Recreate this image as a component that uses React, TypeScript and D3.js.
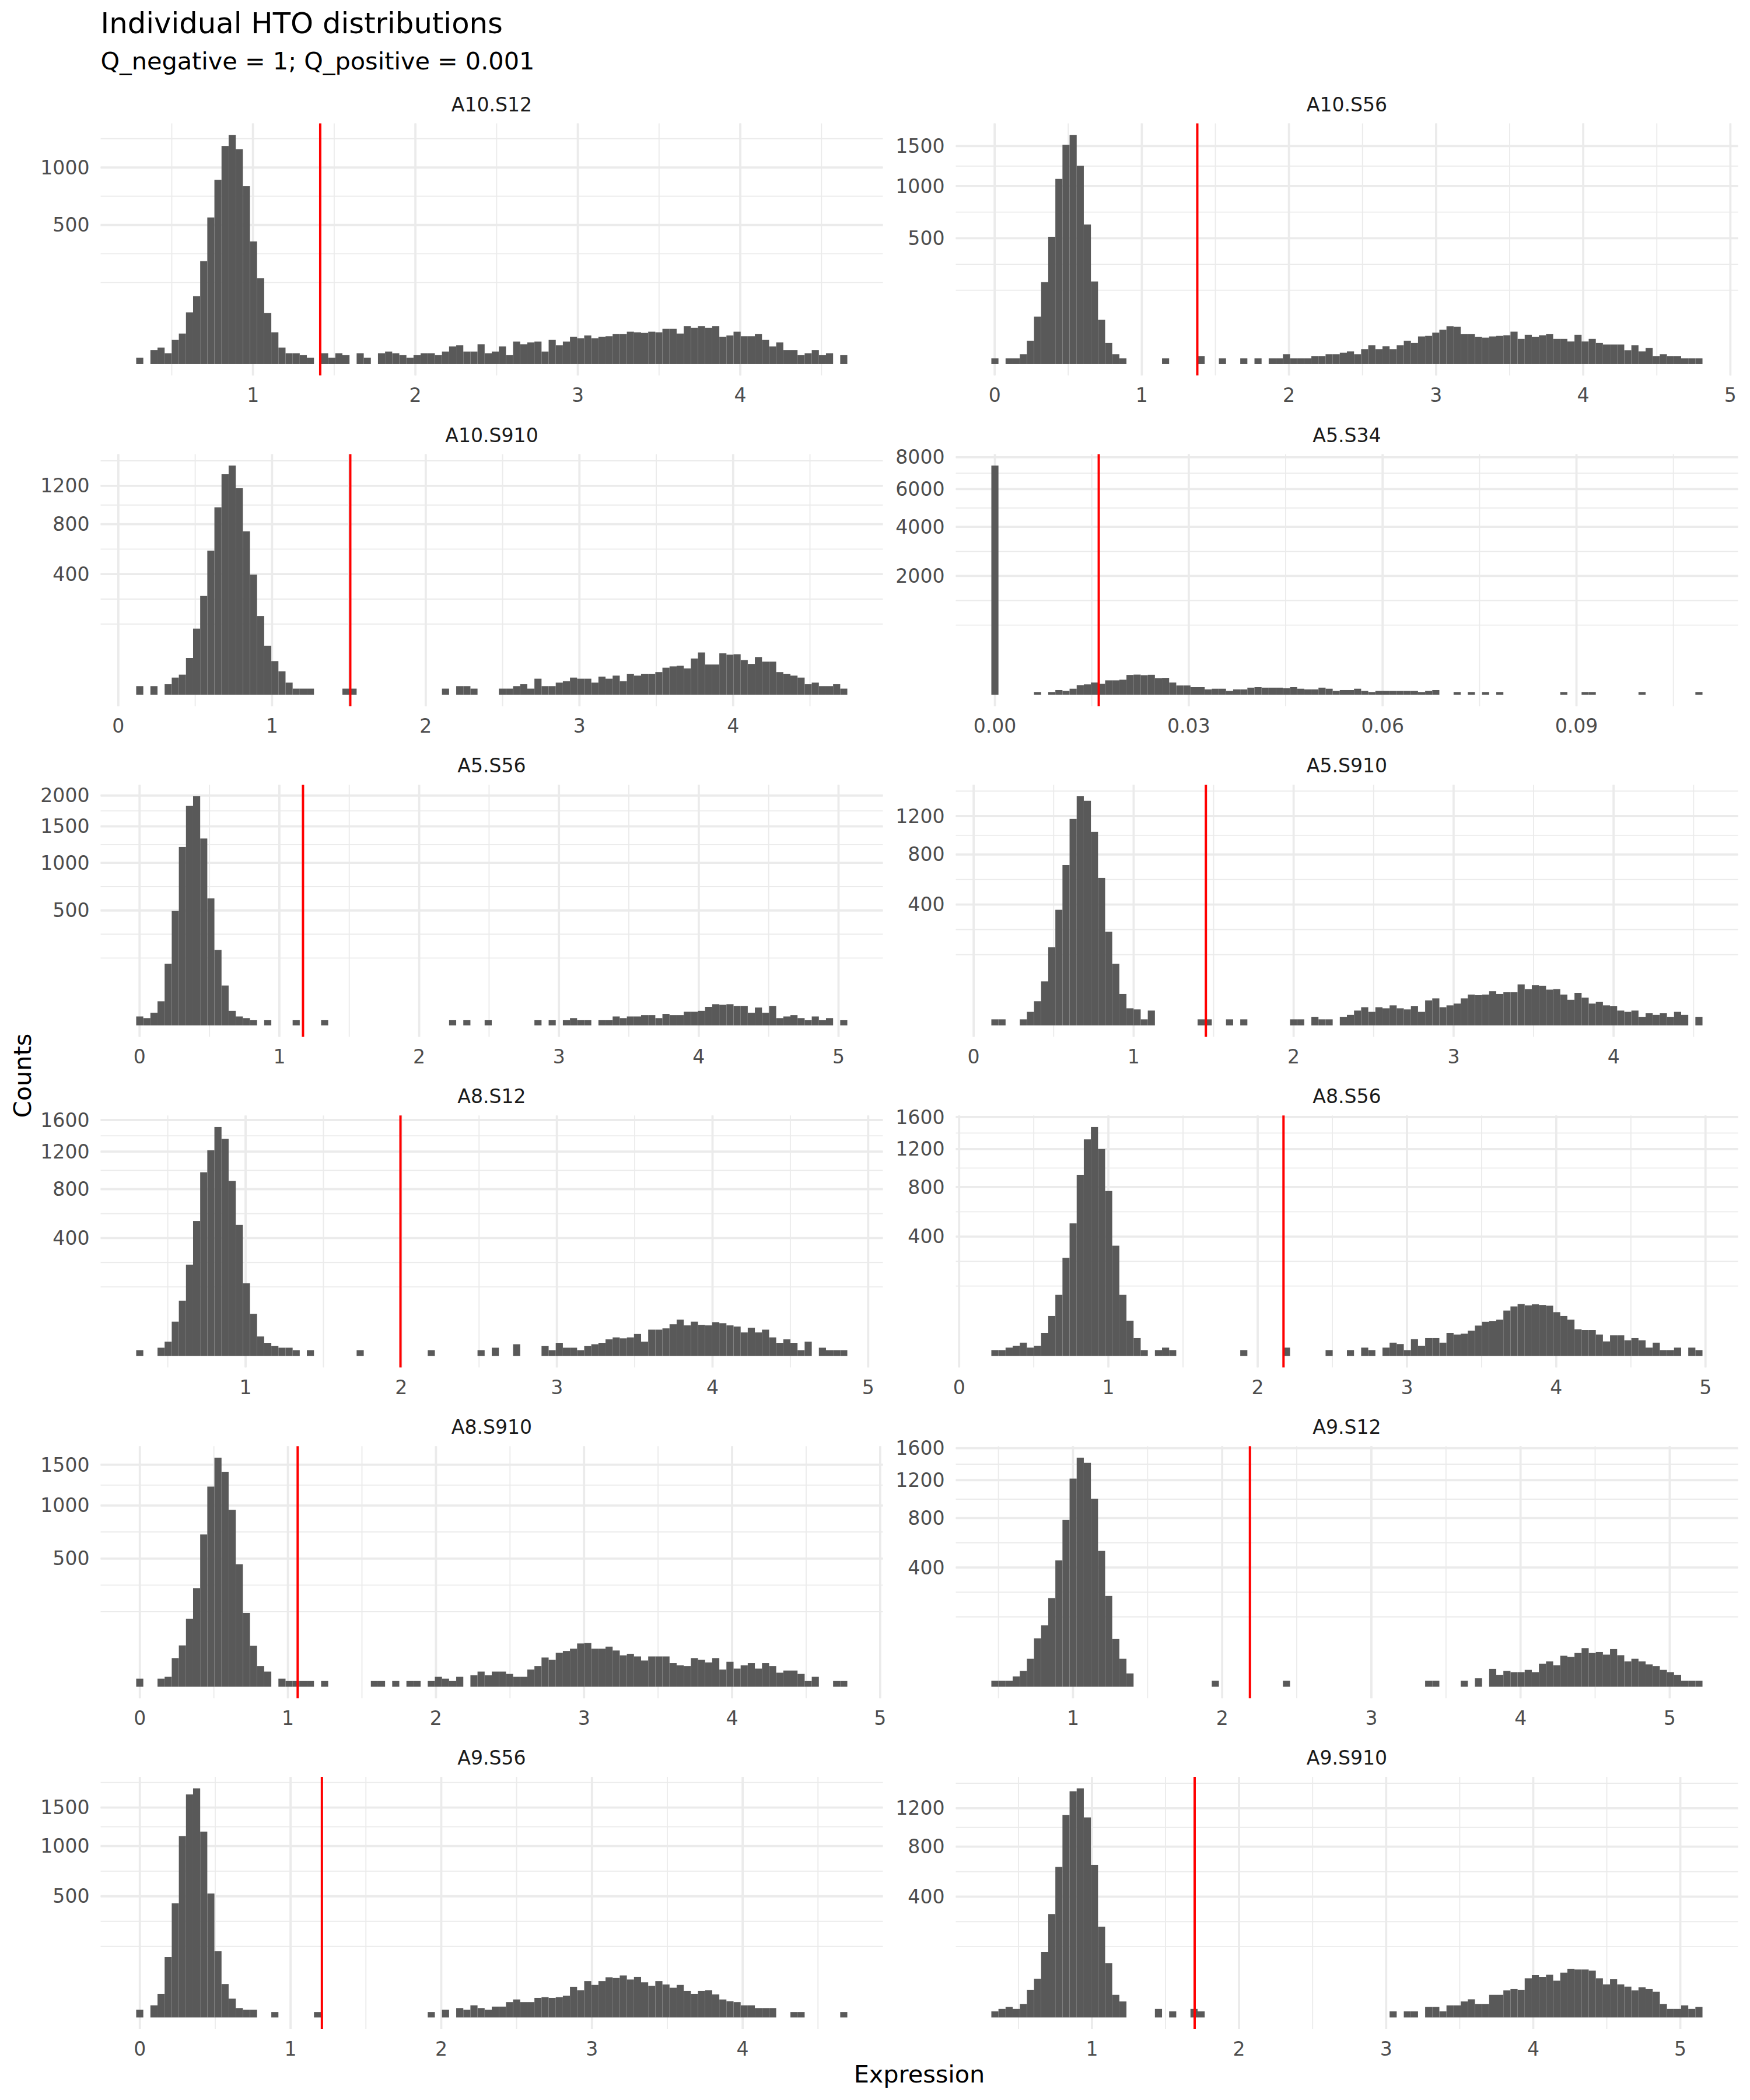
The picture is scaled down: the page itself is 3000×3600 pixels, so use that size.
import React from "react";
import * as d3 from "d3";

// facet names, in plotting order (2 columns)
const panelNames = [
  "A10.S12", "A10.S56", "A10.S910", "A5.S34", "A5.S56", "A5.S910",
  "A8.S12", "A8.S56", "A8.S910", "A9.S12", "A9.S56", "A9.S910",
];

// left edge of the first bin and bin width (100 bins per panel)
const binStarts = [0.281, -0.0226, 0.116, -0.00055, -0.0243, 0.1106, 0.297, 0.2158, -0.0248, 0.4526, -0.0244, 0.3157];
const binWidths = [0.04378, 0.04833, 0.04627, 0.0011005, 0.05087, 0.04445, 0.04569, 0.04764, 0.04803, 0.04767, 0.04719, 0.04835];

// negative/positive cutoff (red line)
const cutoffs = [1.414, 1.377, 1.509, 0.01607, 1.169, 1.4515, 1.995, 2.173, 1.066, 2.186, 1.208, 1.698];

const yTicks = [
  [500, 1000], [500, 1000, 1500], [400, 800, 1200], [2000, 4000, 6000, 8000],
  [500, 1000, 1500, 2000], [400, 800, 1200], [400, 800, 1200, 1600], [400, 800, 1200, 1600],
  [500, 1000, 1500], [400, 800, 1200, 1600], [500, 1000, 1500], [400, 800, 1200],
];
const xTicks = [
  [1, 2, 3, 4], [0, 1, 2, 3, 4, 5], [0, 1, 2, 3, 4], [0, 0.03, 0.06, 0.09],
  [0, 1, 2, 3, 4, 5], [0, 1, 2, 3, 4], [1, 2, 3, 4, 5], [0, 1, 2, 3, 4, 5],
  [0, 1, 2, 3, 4, 5], [1, 2, 3, 4, 5], [0, 1, 2, 3, 4], [1, 2, 3, 4, 5],
];

const countsA10S12 = [
  1, 0, 5, 7, 3, 15, 24, 69, 119, 274, 556, 878, 1231, 1359, 1194, 819, 389, 190, 67, 26,
  7, 3, 3, 2, 1, 0, 3, 1, 3, 2, 0, 3, 1, 0, 3, 4, 3, 2, 1, 2,
  3, 3, 2, 4, 8, 9, 4, 4, 10, 3, 4, 8, 2, 13, 10, 12, 13, 4, 15, 9,
  13, 19, 17, 21, 17, 19, 20, 23, 23, 27, 26, 25, 27, 26, 32, 32, 24, 37, 34, 37,
  34, 37, 19, 21, 27, 20, 20, 23, 15, 8, 12, 5, 5, 2, 3, 5, 2, 3, 0, 2,
];
const countsA10S56 = [
  1, 0, 1, 1, 3, 17, 71, 212, 511, 1082, 1518, 1658, 1242, 615, 215, 62, 14, 3, 1, 0,
  0, 0, 0, 0, 1, 0, 0, 0, 0, 2, 0, 0, 1, 0, 0, 1, 0, 1, 0, 1,
  1, 3, 1, 1, 1, 2, 2, 3, 3, 4, 5, 3, 7, 11, 7, 10, 7, 11, 17, 14,
  24, 25, 31, 37, 45, 44, 28, 28, 23, 22, 24, 25, 26, 33, 20, 27, 23, 26, 28, 20,
  20, 16, 27, 16, 20, 14, 12, 12, 12, 6, 11, 5, 8, 2, 3, 2, 2, 1, 1, 1,
];
const countsA10S910 = [
  2, 0, 2, 0, 3, 8, 11, 37, 120, 268, 571, 966, 1337, 1444, 1173, 734, 397, 170, 66, 31,
  15, 4, 1, 1, 1, 0, 0, 0, 0, 1, 1, 0, 0, 0, 0, 0, 0, 0, 0, 0,
  0, 0, 0, 1, 0, 2, 2, 1, 0, 0, 0, 1, 1, 2, 3, 1, 7, 2, 2, 4,
  5, 8, 7, 7, 4, 9, 7, 10, 5, 12, 10, 12, 12, 14, 20, 22, 23, 19, 36, 49,
  25, 25, 47, 44, 45, 33, 26, 39, 30, 30, 14, 12, 10, 8, 3, 4, 2, 2, 3, 1,
];
const countsA5S34 = [
  7449, 0, 0, 0, 0, 0, 1, 0, 1, 3, 2, 5, 13, 15, 21, 17, 29, 29, 32, 55,
  57, 54, 56, 39, 40, 21, 12, 12, 8, 8, 4, 5, 5, 2, 4, 4, 7, 8, 7, 7,
  7, 6, 8, 5, 4, 4, 7, 5, 2, 3, 3, 5, 2, 1, 2, 2, 2, 2, 2, 2,
  1, 2, 3, 0, 0, 1, 0, 1, 0, 1, 0, 1, 0, 0, 0, 0, 0, 0, 0, 0,
  1, 0, 0, 1, 1, 0, 0, 0, 0, 0, 0, 1, 0, 0, 0, 0, 0, 0, 0, 1,
];
const countsA5S56 = [
  3, 2, 6, 22, 144, 495, 1205, 1823, 1987, 1322, 610, 215, 60, 8, 3, 2, 1, 0, 1, 0,
  0, 0, 1, 0, 0, 0, 1, 0, 0, 0, 0, 0, 0, 0, 0, 0, 0, 0, 0, 0,
  0, 0, 0, 0, 1, 0, 1, 0, 0, 1, 0, 0, 0, 0, 0, 0, 1, 0, 1, 0,
  1, 2, 1, 1, 0, 1, 1, 3, 2, 3, 3, 4, 4, 2, 5, 4, 4, 7, 7, 8,
  13, 17, 16, 17, 14, 14, 6, 12, 6, 14, 2, 3, 4, 2, 1, 3, 1, 2, 0, 1,
];
const countsA5S910 = [
  1, 1, 0, 0, 1, 5, 16, 53, 167, 366, 704, 1168, 1438, 1382, 1027, 596, 240, 104, 27, 8,
  7, 1, 6, 0, 0, 0, 0, 0, 0, 1, 1, 0, 0, 1, 0, 1, 0, 0, 0, 0,
  0, 0, 1, 1, 0, 2, 1, 1, 0, 2, 3, 6, 9, 5, 9, 8, 11, 8, 7, 10,
  5, 17, 20, 9, 11, 13, 20, 26, 25, 26, 32, 27, 30, 30, 46, 36, 44, 43, 35, 36,
  26, 18, 29, 21, 13, 15, 11, 10, 6, 5, 6, 2, 4, 3, 4, 2, 5, 3, 0, 2,
];
const countsA8S12 = [
  1, 0, 0, 2, 6, 34, 88, 240, 524, 970, 1216, 1507, 1355, 880, 494, 152, 51, 11, 5, 3,
  2, 2, 1, 0, 1, 0, 0, 0, 0, 0, 0, 1, 0, 0, 0, 0, 0, 0, 0, 0,
  0, 1, 0, 0, 0, 0, 0, 0, 1, 0, 2, 0, 0, 4, 0, 0, 0, 3, 1, 5,
  2, 2, 1, 3, 4, 5, 8, 10, 9, 10, 14, 6, 20, 20, 22, 29, 38, 27, 34, 28,
  27, 33, 31, 27, 25, 16, 23, 16, 20, 10, 5, 8, 5, 1, 6, 0, 2, 1, 1, 1,
];
const countsA8S56 = [
  1, 1, 2, 3, 5, 2, 3, 15, 45, 105, 270, 493, 920, 1315, 1470, 1200, 763, 341, 105, 35,
  9, 1, 0, 1, 2, 1, 0, 0, 0, 0, 0, 0, 0, 0, 0, 1, 0, 0, 0, 0,
  0, 2, 0, 0, 0, 0, 0, 1, 0, 0, 1, 0, 2, 1, 0, 2, 5, 4, 1, 8,
  3, 9, 9, 5, 15, 13, 14, 18, 26, 33, 34, 37, 58, 69, 76, 72, 75, 73, 71, 54,
  45, 37, 20, 19, 19, 13, 6, 12, 12, 7, 9, 7, 2, 5, 1, 1, 2, 0, 2, 1,
];
const countsA8S910 = [
  2, 0, 0, 2, 3, 25, 52, 141, 296, 706, 1219, 1597, 1406, 952, 457, 166, 51, 13, 7, 0,
  2, 1, 1, 1, 1, 0, 1, 0, 0, 0, 0, 0, 0, 1, 1, 0, 1, 0, 1, 1,
  0, 1, 3, 2, 1, 3, 0, 4, 7, 4, 7, 7, 5, 3, 3, 9, 13, 26, 22, 35,
  39, 44, 57, 58, 44, 44, 49, 40, 30, 33, 28, 21, 28, 28, 28, 17, 14, 13, 25, 22,
  18, 25, 9, 19, 10, 14, 17, 10, 17, 13, 6, 8, 8, 5, 1, 3, 0, 0, 1, 1,
];
const countsA9S12 = [
  1, 1, 1, 3, 7, 22, 66, 106, 221, 449, 782, 1219, 1476, 1410, 993, 519, 232, 64, 22, 5,
  0, 0, 0, 0, 0, 0, 0, 0, 0, 0, 0, 1, 0, 0, 0, 0, 0, 0, 0, 0,
  0, 1, 0, 0, 0, 0, 0, 0, 0, 0, 0, 0, 0, 0, 0, 0, 0, 0, 0, 0,
  0, 1, 1, 0, 0, 0, 1, 0, 2, 0, 9, 4, 7, 6, 6, 8, 6, 15, 18, 13,
  27, 25, 32, 42, 32, 34, 29, 40, 28, 18, 22, 18, 14, 12, 8, 6, 4, 1, 1, 1,
];
const countsA9S56 = [
  2, 0, 5, 19, 124, 444, 1120, 1693, 1787, 1176, 523, 149, 38, 12, 3, 2, 2, 0, 0, 1,
  0, 0, 0, 0, 0, 1, 0, 0, 0, 0, 0, 0, 0, 0, 0, 0, 0, 0, 0, 0,
  0, 1, 0, 2, 0, 3, 2, 5, 3, 2, 4, 4, 8, 11, 8, 8, 13, 14, 13, 14,
  16, 32, 25, 45, 36, 45, 55, 53, 60, 49, 56, 42, 34, 45, 37, 30, 36, 24, 19, 24,
  25, 18, 11, 9, 8, 5, 5, 3, 3, 3, 0, 0, 1, 1, 0, 0, 0, 0, 0, 1,
];
const countsA9S910 = [
  1, 2, 3, 2, 5, 21, 41, 118, 293, 621, 1125, 1402, 1439, 1097, 638, 226, 81, 14, 7, 0,
  0, 0, 0, 2, 0, 1, 0, 0, 2, 1, 0, 0, 0, 0, 0, 0, 0, 0, 0, 0,
  0, 0, 0, 0, 0, 0, 0, 0, 0, 0, 0, 0, 0, 0, 0, 0, 1, 0, 1, 1,
  0, 3, 3, 1, 4, 4, 7, 9, 5, 5, 14, 14, 20, 22, 21, 42, 49, 45, 50, 37,
  55, 65, 63, 63, 60, 42, 30, 40, 30, 26, 20, 25, 22, 18, 5, 2, 2, 4, 2, 3,
];

const allCounts = [
  countsA10S12, countsA10S56, countsA10S910, countsA5S34, countsA5S56, countsA5S910,
  countsA8S12, countsA8S56, countsA8S910, countsA9S12, countsA9S56, countsA9S910,
];

const W = 3000;
const H = 3600;
const panelW = 1341;
const panelH = 432;
const colLeft = [172.5, 1638.5];
const rowTop0 = 211.6;
const rowStep = 566.9;
const FONT = "'DejaVu Sans', Verdana, sans-serif";
const GRID = "#EBEBEB";

// ggplot2-style regular minor breaks (computed in transformed space)
function minorBreaks(majors: number[], lo: number, hi: number) {
  if (majors.length < 2) return [];
  let b = majors.slice();
  const bd = b[1] - b[0];
  if (lo < b[0]) b = [b[0] - bd, ...b];
  if (hi > b[b.length - 1]) b = [...b, b[b.length - 1] + bd];
  const out: number[] = [];
  for (let i = 0; i < b.length - 1; i++) out.push(b[i], (b[i] + b[i + 1]) / 2);
  out.push(b[b.length - 1]);
  return out;
}

function Panel({ i }: { i: number }) {
  const col = i % 2;
  const row = Math.floor(i / 2);
  const left = colLeft[col];
  const top = rowTop0 + row * rowStep;
  const bottom = top + panelH;
  const counts = allCounts[i];
  const x0 = binStarts[i];
  const w = binWidths[i];

  const xDom: [number, number] = [x0 - 5 * w, x0 + 105 * w];
  const x = d3.scaleLinear().domain(xDom).range([left, left + panelW]);
  const s = Math.sqrt(d3.max(counts) as number);
  const y = d3.scaleSqrt().domain([-((0.05 * s) ** 2), (1.05 * s) ** 2]).range([bottom, top]);
  const ySq = d3.scaleLinear().domain([-0.05 * s, 1.05 * s]).range([bottom, top]);

  const xMaj = xTicks[i].filter((t) => t >= xDom[0] && t <= xDom[1]);
  const xMin = minorBreaks(xTicks[i], x0, x0 + 100 * w).filter((t) => t >= xDom[0] && t <= xDom[1]);
  const yMaj = yTicks[i];
  const yMin = minorBreaks(yMaj.map(Math.sqrt), 0, s).filter((t) => t >= -0.05 * s && t <= 1.05 * s);

  const isInt = xTicks[i].every((t) => Number.isInteger(t));
  const fmt = isInt ? d3.format("d") : d3.format(".2f");

  return (
    <g>
      {yMin.map((t, k) => (
        <line key={"ym" + k} x1={left} x2={left + panelW} y1={ySq(t)} y2={ySq(t)} stroke={GRID} strokeWidth={1.9} />
      ))}
      {xMin.map((t, k) => (
        <line key={"xm" + k} x1={x(t)} x2={x(t)} y1={top} y2={bottom} stroke={GRID} strokeWidth={1.9} />
      ))}
      {yMaj.map((t, k) => (
        <line key={"yM" + k} x1={left} x2={left + panelW} y1={y(t)} y2={y(t)} stroke={GRID} strokeWidth={3.8} />
      ))}
      {xMaj.map((t, k) => (
        <line key={"xM" + k} x1={x(t)} x2={x(t)} y1={top} y2={bottom} stroke={GRID} strokeWidth={3.8} />
      ))}
      {counts.map((c, k) =>
        c > 0 ? (
          <rect
            key={"b" + k}
            x={x(x0 + k * w)}
            width={x(x0 + (k + 1) * w) - x(x0 + k * w)}
            y={y(c)}
            height={y(0) - y(c)}
            fill="#595959"
          />
        ) : null
      )}
      <line x1={x(cutoffs[i])} x2={x(cutoffs[i])} y1={top} y2={bottom} stroke="#FF0000" strokeWidth={4} />
      {yMaj.map((t, k) => (
        <text key={"yl" + k} x={left - 19} y={y(t)} dy="0.35em" textAnchor="end" fontSize={33.1} fill="#4D4D4D">
          {t}
        </text>
      ))}
      {xMaj.map((t, k) => (
        <text key={"xl" + k} x={x(t)} y={bottom + 45.5} textAnchor="middle" fontSize={33.1} fill="#4D4D4D">
          {fmt(t)}
        </text>
      ))}
      <text x={left + panelW / 2} y={top - 21} textAnchor="middle" fontSize={33.1} fill="#1A1A1A">
        {panelNames[i]}
      </text>
    </g>
  );
}

export default function App() {
  return (
    <svg
      width={W}
      height={H}
      viewBox={`0 0 ${W} ${H}`}
      style={{ position: "absolute", left: 0, top: 0, display: "block" }}
      fontFamily={FONT}
    >
      <rect x={0} y={0} width={W} height={H} fill="#FFFFFF" />
      <text x={172.5} y={56.5} fontSize={49.7} fill="#000000">
        Individual HTO distributions
      </text>
      <text x={172.5} y={118.5} fontSize={41.4} fill="#000000">
        Q_negative = 1; Q_positive = 0.001
      </text>
      {panelNames.map((_, i) => (
        <Panel key={i} i={i} />
      ))}
      <text x={53} y={1844} transform="rotate(-90 53 1844)" textAnchor="middle" fontSize={41.4} fill="#000000">
        Counts
      </text>
      <text x={1576} y={3570} textAnchor="middle" fontSize={41.4} fill="#000000">
        Expression
      </text>
    </svg>
  );
}
